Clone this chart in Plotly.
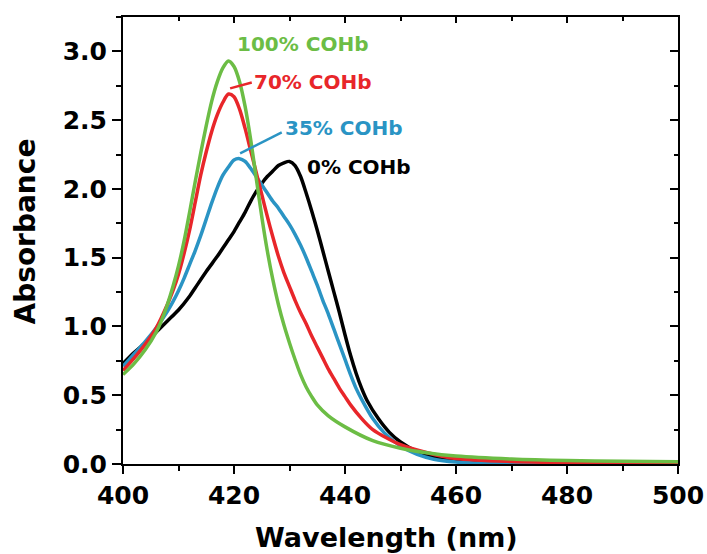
import plotly.graph_objects as go

# Soret-band absorbance spectra of haemoglobin at different carboxyhaemoglobin fractions

wl_0 = [400, 402, 404, 406, 408, 410, 412, 413, 415, 417, 418, 419, 420, 421, 422, 423,
        424, 425, 426, 427, 428, 429, 430, 431, 432, 433, 434, 435, 436, 437, 438, 439,
        440, 441, 442, 443, 444, 446, 448, 450, 453, 456, 460, 465, 470, 480, 490, 500]
abs_0 = [0.73, 0.81, 0.88, 0.96, 1.04, 1.12, 1.22, 1.28, 1.40, 1.51, 1.57, 1.63, 1.69,
         1.76, 1.83, 1.91, 1.98, 2.04, 2.09, 2.13, 2.17, 2.19, 2.20, 2.17, 2.09, 1.97,
         1.84, 1.70, 1.55, 1.40, 1.25, 1.10, 0.94, 0.79, 0.66, 0.55, 0.46, 0.33, 0.23,
         0.16, 0.09, 0.05, 0.02, 0.006, 0.002, 0.0, 0.0, 0.0]

wl_35 = [400, 402, 404, 406, 408, 409, 410, 411, 412, 413, 414, 415, 416, 417, 418, 419,
         420, 421, 422, 423, 424, 425, 426, 427, 428, 429, 430, 431, 432, 433, 434, 435,
         436, 437, 438, 439, 440, 441, 442, 443, 445, 447, 450, 453, 456, 460, 465, 470,
         480, 490, 500]
abs_35 = [0.71, 0.80, 0.89, 0.99, 1.11, 1.18, 1.26, 1.35, 1.45, 1.55, 1.66, 1.78, 1.90,
          2.01, 2.10, 2.16, 2.21, 2.22, 2.20, 2.15, 2.09, 2.03, 1.97, 1.91, 1.86, 1.80,
          1.74, 1.67, 1.59, 1.50, 1.40, 1.30, 1.19, 1.09, 0.98, 0.87, 0.76, 0.65, 0.55,
          0.47, 0.33, 0.23, 0.13, 0.07, 0.035, 0.015, 0.006, 0.003, 0.002, 0.002, 0.002]

wl_70 = [400, 402, 404, 406, 408, 409, 410, 411, 412, 413, 414, 415, 416, 417, 418, 419,
         420, 421, 422, 423, 424, 425, 426, 427, 428, 429, 430, 431, 432, 433, 434, 435,
         436, 437, 438, 439, 440, 441, 443, 445, 450, 455, 460, 470, 480, 490, 500]
abs_70 = [0.68, 0.77, 0.87, 0.99, 1.16, 1.26, 1.38, 1.53, 1.70, 1.90, 2.10, 2.27, 2.42,
          2.54, 2.63, 2.69, 2.67, 2.58, 2.44, 2.28, 2.12, 1.96, 1.80, 1.65, 1.51, 1.39,
          1.29, 1.19, 1.10, 1.02, 0.93, 0.85, 0.77, 0.69, 0.62, 0.55, 0.49, 0.43, 0.33,
          0.25, 0.14, 0.08, 0.04, 0.018, 0.01, 0.007, 0.005]

wl_100 = [400, 402, 404, 406, 407, 408, 409, 410, 411, 412, 413, 414, 415, 416, 417, 418,
          419, 420, 421, 422, 423, 424, 425, 426, 427, 428, 429, 430, 431, 432, 433, 434,
          435, 437, 440, 445, 450, 455, 460, 470, 480, 490, 500]
abs_100 = [0.65, 0.73, 0.83, 0.96, 1.05, 1.16, 1.29, 1.44, 1.62, 1.83, 2.05, 2.26, 2.46,
           2.64, 2.78, 2.88, 2.93, 2.89, 2.78, 2.60, 2.36, 2.08, 1.80, 1.55, 1.34, 1.16,
           1.01, 0.88, 0.76, 0.65, 0.56, 0.49, 0.43, 0.35, 0.27, 0.17, 0.115, 0.08, 0.058,
           0.036, 0.025, 0.02, 0.017]

series = [
    ("0% COHb", wl_0, abs_0, "#000000"),
    ("35% COHb", wl_35, abs_35, "#2a94c4"),
    ("70% COHb", wl_70, abs_70, "#e8262a"),
    ("100% COHb", wl_100, abs_100, "#6cbd45"),
]

# label text, anchor position (nm, absorbance), optional leader line
labels = [
    ("100% COHb", 432.3, 3.057, None),
    ("70% COHb", 434.2, 2.774, ((419.3, 2.731), (423.2, 2.774))),
    ("35% COHb", 439.9, 2.44, ((421.1, 2.259), (428.6, 2.411))),
    ("0% COHb", 442.5, 2.157, None),
]

FONT = "DejaVu Sans"

fig = go.Figure()
for name, x, y, color in series:
    fig.add_trace(go.Scatter(
        x=x, y=y, mode="lines", name=name,
        line=dict(color=color, width=3.5, shape="spline", smoothing=0.8),
        showlegend=False,
    ))

# leader lines from labels to the peaks
label_colors = {n: c for n, _, _, c in series}
for text, lx, ly, leader in labels:
    if leader is not None:
        (x0, y0), (x1, y1) = leader
        fig.add_shape(type="line", x0=x0, y0=y0, x1=x1, y1=y1, xref="x", yref="y",
                      line=dict(color=label_colors[text], width=2.5))
    fig.add_annotation(x=lx, y=ly, xref="x", yref="y", text=text,
                       showarrow=False, xanchor="center", yanchor="middle",
                       font=dict(family=FONT, size=20, weight="bold",
                                 color=label_colors[text]))

# invisible trace to bind the mirrored frame axes
fig.add_trace(go.Scatter(x=[None], y=[None], xaxis="x2", yaxis="y2",
                         showlegend=False, hoverinfo="skip"))

tick_font = dict(family=FONT, size=25, weight="bold", color="black")

fig.update_layout(
    width=707, height=554,
    margin=dict(l=123, r=29, t=17, b=90, autoexpand=False),
    paper_bgcolor="white", plot_bgcolor="white",
    xaxis=dict(
        range=[400, 500], dtick=20, tick0=400, automargin=False,
        ticks="outside", ticklen=8, tickwidth=2, tickcolor="black",
        minor=dict(dtick=10, ticks="outside", ticklen=5, tickwidth=2, tickcolor="black"),
        showline=True, linewidth=2, linecolor="black",
        showgrid=False, zeroline=False,
        tickfont=tick_font,
    ),
    yaxis=dict(
        range=[0, 3.25], dtick=0.5, tick0=0, tickformat=".1f", automargin=False,
        ticks="outside", ticklen=9, tickwidth=2, tickcolor="black",
        minor=dict(dtick=0.25, ticks="outside", ticklen=5, tickwidth=2, tickcolor="black"),
        showline=True, linewidth=2, linecolor="black",
        showgrid=False, zeroline=False,
        tickfont=tick_font,
    ),
    xaxis2=dict(
        overlaying="x", side="top", range=[400, 500], dtick=20, tick0=400,
        automargin=False,
        ticks="inside", ticklen=6, tickwidth=2, tickcolor="black",
        minor=dict(dtick=10, ticks="inside", ticklen=4, tickwidth=2, tickcolor="black"),
        showline=True, linewidth=2, linecolor="black",
        showticklabels=False, showgrid=False, zeroline=False,
    ),
    yaxis2=dict(
        overlaying="y", side="right", range=[0, 3.25], dtick=0.5, tick0=0,
        automargin=False,
        ticks="inside", ticklen=8, tickwidth=2, tickcolor="black",
        minor=dict(dtick=0.25, ticks="inside", ticklen=4, tickwidth=2, tickcolor="black"),
        showline=True, linewidth=2, linecolor="black",
        showticklabels=False, showgrid=False, zeroline=False,
    ),
)

# axis titles, placed by pixel position and converted to paper coordinates
plot_w = 707 - 123 - 29
plot_h = 554 - 17 - 90


def px_to_paper(px, py):
    return (px - 123) / plot_w, (554 - 90 - py) / plot_h


tx, ty = px_to_paper(386.5, 537)
fig.add_annotation(x=tx, y=ty, xref="paper", yref="paper", text="Wavelength (nm)",
                   showarrow=False, xanchor="center", yanchor="middle",
                   font=dict(family=FONT, size=27, weight="bold", color="black"))
tx, ty = px_to_paper(25, 231.5)
fig.add_annotation(x=tx, y=ty, xref="paper", yref="paper", text="Absorbance",
                   textangle=-90, showarrow=False, xanchor="center", yanchor="middle",
                   font=dict(family=FONT, size=28, weight="bold", color="black"))

fig.write_html("out.html")
